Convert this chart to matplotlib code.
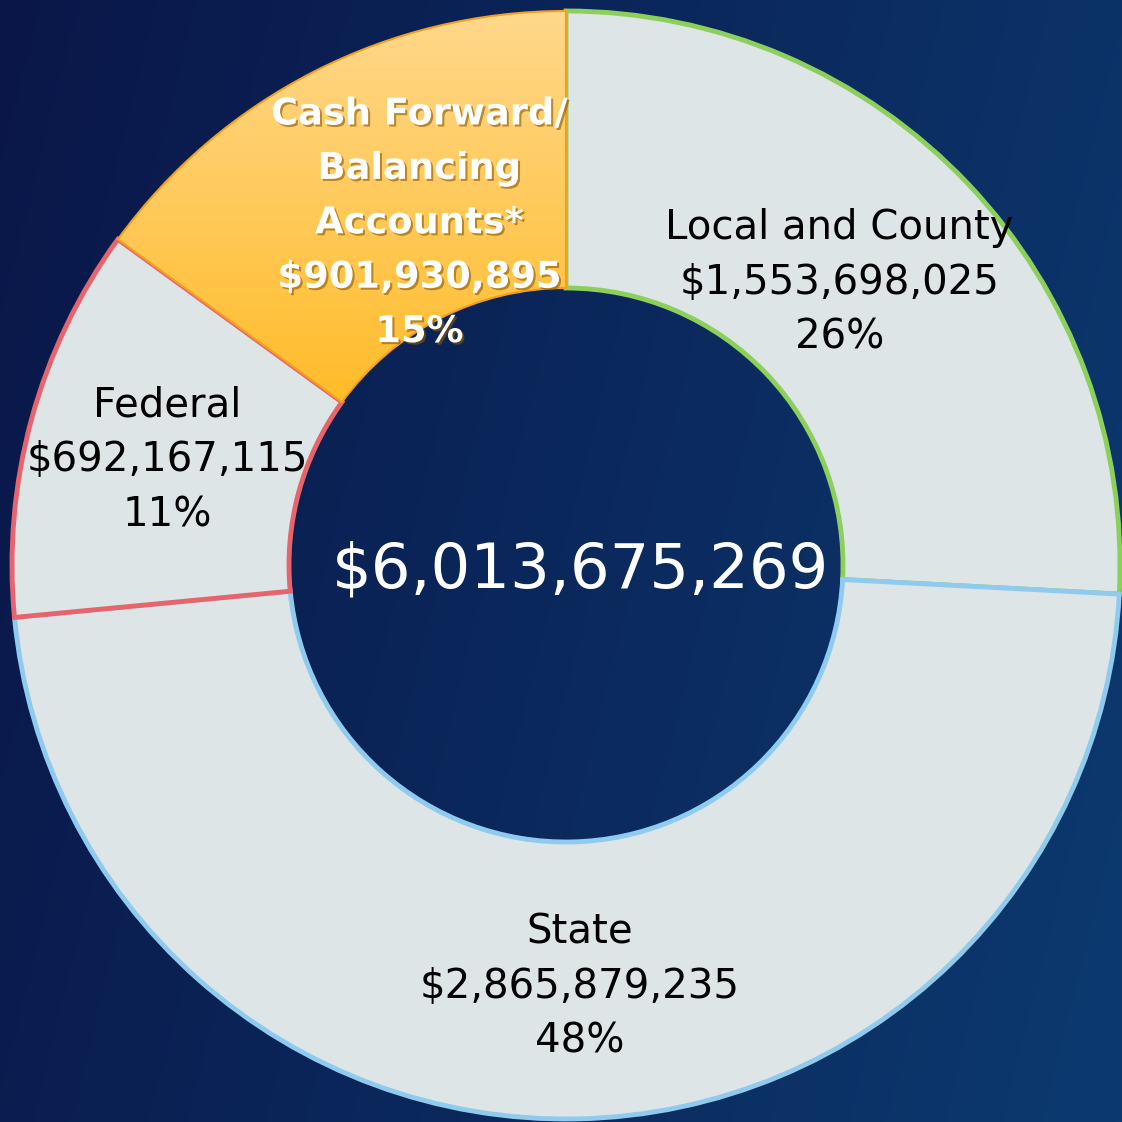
# Donut chart of revenue sources
import numpy as np
import matplotlib.pyplot as plt
import matplotlib.patheffects as pe

# data
labels = ["Local and County", "State", "Federal", "Cash Forward/\nBalancing\nAccounts*"]
amounts = [1553698025, 2865879235, 692167115, 901930895]
pcts = ["26%", "48%", "11%", "15%"]
total_text = "$6,013,675,269"

edge_colors = ["#8ccf5a", "#8ecbee", "#e8646c", "#f4a81c"]
slice_fill = "#dee5e7"

W = 1122
cx, cy = 566, W - 565
R = 554

fig = plt.figure(figsize=(11.22, 11.22), dpi=100)
ax = fig.add_axes([0, 0, 1, 1])

# background gradient (dark navy on the left, lighter blue to the right)
gx = np.linspace(0, 1, 256)
gy = np.linspace(0, 1, 256)
GX, GY = np.meshgrid(gx, gy)
c_left = np.array([10, 22, 72]) / 255
c_right = np.array([12, 58, 112]) / 255
t = (0.8 * GX + 0.2 * (1 - GY))[..., None]
bg = c_left * (1 - t) + c_right * t
ax.imshow(bg, extent=(0, W, 0, W), origin="lower", zorder=0, aspect="auto")

wedges, _ = ax.pie(amounts, startangle=90, counterclock=False,
                   center=(cx, cy), radius=R,
                   colors=[slice_fill] * 3 + ["#ffc040"],
                   wedgeprops=dict(width=R / 2, linewidth=3.5))
for w, ec in zip(wedges, edge_colors):
    w.set_edgecolor(ec)
    w.set_zorder(2)

# orange gradient for the cash forward slice
cash = wedges[3]
grad = np.linspace(0, 1, 256)[:, None] * np.ones((1, 2))
top = np.array([255, 216, 140]) / 255
bot = np.array([255, 176, 0]) / 255
img = (top * (1 - grad[..., None]) + bot * grad[..., None])
im = ax.imshow(img, extent=(cx - R, cx, cy, cy + R), origin="upper",
               zorder=3, aspect="auto")
im.set_clip_path(cash)
cash.set_edgecolor("#f0a020")
cash.set_linewidth(1.5)
cash.set_zorder(4)
cash.set_facecolor("none")

ax.set_xlim(0, W)
ax.set_ylim(0, W)
ax.set_aspect("equal")
ax.axis("off")

# labels at the middle of each ring segment
nudges = [(-28, -4), (5, -7), (2, -5), (42, -28)]
font = "DejaVu Sans"
for i, w in enumerate(wedges):
    mid = np.deg2rad((w.theta1 + w.theta2) / 2)
    x = cx + 0.75 * R * np.cos(mid) + nudges[i][0]
    y = cy + 0.75 * R * np.sin(mid) + nudges[i][1]
    txt = f"{labels[i]}\n${amounts[i]:,}\n{pcts[i]}"
    if i == 3:
        ax.text(x, y, txt, ha="center", va="center", fontsize=26.5,
                fontweight="bold", color="white", family=font,
                linespacing=1.6, zorder=6,
                path_effects=[pe.withSimplePatchShadow(offset=(1.5, -1.5),
                                                       shadow_rgbFace="#8a5a00",
                                                       alpha=0.6)])
    else:
        ax.text(x, y, txt, ha="center", va="center", fontsize=29,
                color="black", family=font, linespacing=1.47, zorder=6)

ax.text(cx + 15, cy - 5, total_text, ha="center", va="center", fontsize=45,
        color="white", family=font, zorder=6)

fig.savefig("out.png", dpi=100)
